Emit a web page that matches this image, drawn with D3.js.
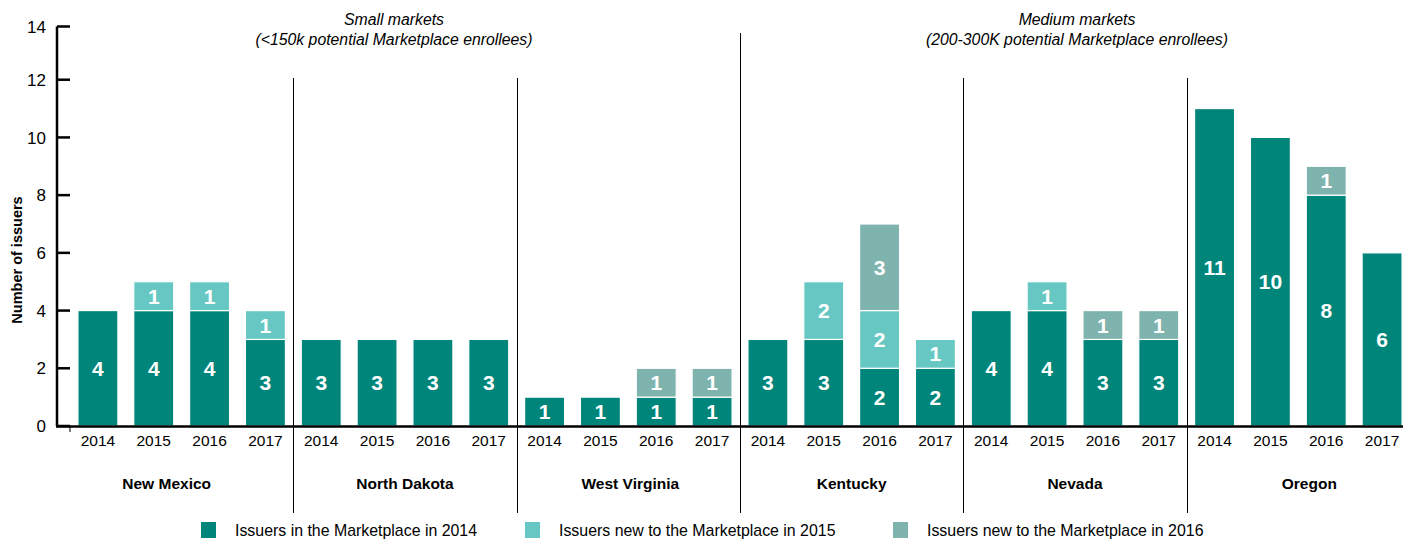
<!DOCTYPE html>
<html>
<head>
<meta charset="utf-8">
<script src="https://cdn.jsdelivr.net/npm/d3@7"></script>
<style>
  body { margin: 0; background: #fff; }
  svg { font-family: "Liberation Sans", Arial, sans-serif; }
</style>
</head>
<body>
<svg id="chart" width="1403" height="540"></svg>
<script>
// data
var states = ["New Mexico", "North Dakota", "West Virginia", "Kentucky", "Nevada", "Oregon"];
var years = ["2014", "2015", "2016", "2017"];
var in2014 = [[4, 4, 4, 3], [3, 3, 3, 3], [1, 1, 1, 1], [3, 3, 2, 2], [4, 4, 3, 3], [11, 10, 8, 6]];
var new2015 = [[0, 1, 1, 1], [0, 0, 0, 0], [0, 0, 0, 0], [0, 2, 2, 1], [0, 1, 0, 0], [0, 0, 0, 0]];
var new2016 = [[0, 0, 0, 0], [0, 0, 0, 0], [0, 0, 1, 1], [0, 0, 3, 0], [0, 0, 1, 1], [0, 0, 1, 0]];
var seriesNames = ["Issuers in the Marketplace in 2014", "Issuers new to the Marketplace in 2015", "Issuers new to the Marketplace in 2016"];
var colors = ["#00857a", "#67c8c3", "#7fb3ad"];
var yTicks = [0, 2, 4, 6, 8, 10, 12, 14];

var svg = d3.select("#chart");

var y = d3.scaleLinear().domain([0, 14]).range([426, 22]);
var yTop = 26.5; // the axis stops a little short of 14, its top tick sits at the end
var tickY = d => Math.max(y(d), yTop);
var xState = d3.scaleBand().domain(states).range([70, 1410]);
var xYear = d3.scaleBand().domain(years).range([0, xState.bandwidth()])
    .paddingInner(0.284).paddingOuter(0.142);

// build rows for stacking
var rows = [];
states.forEach((s, i) => {
    years.forEach((yr, j) => {
        rows.push({state: s, year: yr, a: in2014[i][j], b: new2015[i][j], c: new2016[i][j]});
    });
});
var stack = d3.stack().keys(["a", "b", "c"]);
var series = stack(rows);

// bars
var g = svg.append("g");
series.forEach((ser, k) => {
    g.selectAll(null)
        .data(ser.filter(d => d[1] - d[0] > 0))
        .join("rect")
        .attr("x", d => xState(d.data.state) + xYear(d.data.year))
        .attr("width", xYear.bandwidth())
        .attr("y", d => y(d[1]))
        .attr("height", d => y(d[0]) - y(d[1]))
        .attr("fill", colors[k])
        .attr("stroke", "#fff")
        .attr("stroke-width", 1.2);

    g.selectAll(null)
        .data(ser.filter(d => d[1] - d[0] > 0))
        .join("text")
        .attr("x", d => xState(d.data.state) + xYear(d.data.year) + xYear.bandwidth() / 2)
        .attr("y", d => y((d[0] + d[1]) / 2))
        .attr("dy", "0.36em")
        .attr("text-anchor", "middle")
        .attr("fill", "#fff")
        .attr("font-weight", "bold")
        .attr("font-size", 21)
        .text(d => d[1] - d[0]);
});

// separators between states
states.slice(1).forEach((s, i) => {
    var xx = Math.round(xState(s)) + 0.5;
    svg.append("line")
        .attr("x1", xx).attr("x2", xx)
        .attr("y1", s === "Kentucky" ? 33 : 78)
        .attr("y2", 513)
        .attr("stroke", "#000")
        .attr("stroke-width", 1);
});

// y axis
var yAxis = svg.append("g").attr("transform", "translate(57,0)");
yAxis.append("path")
    .attr("d", "M0," + yTop + "V" + y(0))
    .attr("stroke", "#000").attr("stroke-width", 2.5);
yAxis.selectAll("line")
    .data(yTicks)
    .join("line")
    .attr("x1", 0).attr("x2", 13)
    .attr("y1", tickY).attr("y2", tickY)
    .attr("stroke", "#000").attr("stroke-width", 2.5);
svg.append("g").selectAll("text")
    .data(yTicks)
    .join("text")
    .attr("x", 46)
    .attr("y", tickY)
    .attr("dy", "0.36em")
    .attr("text-anchor", "end")
    .attr("font-size", 17)
    .text(d => d);

svg.append("text")
    .attr("transform", "translate(22,260) rotate(-90)")
    .attr("text-anchor", "middle")
    .attr("font-size", 14.5)
    .attr("font-weight", "bold")
    .text("Number of issuers");

// x axis line
svg.append("line")
    .attr("x1", 56).attr("x2", 1403)
    .attr("y1", 426.5).attr("y2", 426.5)
    .attr("stroke", "#000").attr("stroke-width", 2.5);
svg.append("line")
    .attr("x1", 70).attr("x2", 70)
    .attr("y1", 426).attr("y2", 432)
    .attr("stroke", "#000").attr("stroke-width", 1);

// year labels
states.forEach(s => {
    svg.append("g").selectAll("text")
        .data(years)
        .join("text")
        .attr("x", d => xState(s) + xYear(d) + xYear.bandwidth() / 2)
        .attr("y", 446)
        .attr("text-anchor", "middle")
        .attr("font-size", 15.5)
        .text(d => d);
});

// state labels (first and last sit a little off-centre in the original)
var stateShift = [-15, 0, 2, 0, 0, 11];
svg.append("g").selectAll("text")
    .data(states)
    .join("text")
    .attr("x", (d, i) => xState(d) + xState.bandwidth() / 2 + stateShift[i])
    .attr("y", 489)
    .attr("text-anchor", "middle")
    .attr("font-size", 15.5)
    .attr("font-weight", "bold")
    .text(d => d);

// market headers
var headers = [
    {x: 394, lines: ["Small markets", "(<150k potential Marketplace enrollees)"]},
    {x: 1077, lines: ["Medium markets", "(200-300K potential Marketplace enrollees)"]}
];
headers.forEach(h => {
    h.lines.forEach((t, i) => {
        svg.append("text")
            .attr("x", h.x)
            .attr("y", 25 + i * 20)
            .attr("text-anchor", "middle")
            .attr("font-size", 15.8)
            .attr("font-style", "italic")
            .text(t);
    });
});

// legend
var legendX = [201, 525, 893];
var legend = svg.append("g").selectAll("g")
    .data(seriesNames)
    .join("g")
    .attr("transform", (d, i) => "translate(" + legendX[i] + ",522)");
legend.append("rect")
    .attr("width", 15).attr("height", 16)
    .attr("fill", (d, i) => colors[i]);
legend.append("text")
    .attr("x", 34)
    .attr("y", 8)
    .attr("dy", "0.36em")
    .attr("font-size", 15.9)
    .text(d => d);
</script>
</body>
</html>
